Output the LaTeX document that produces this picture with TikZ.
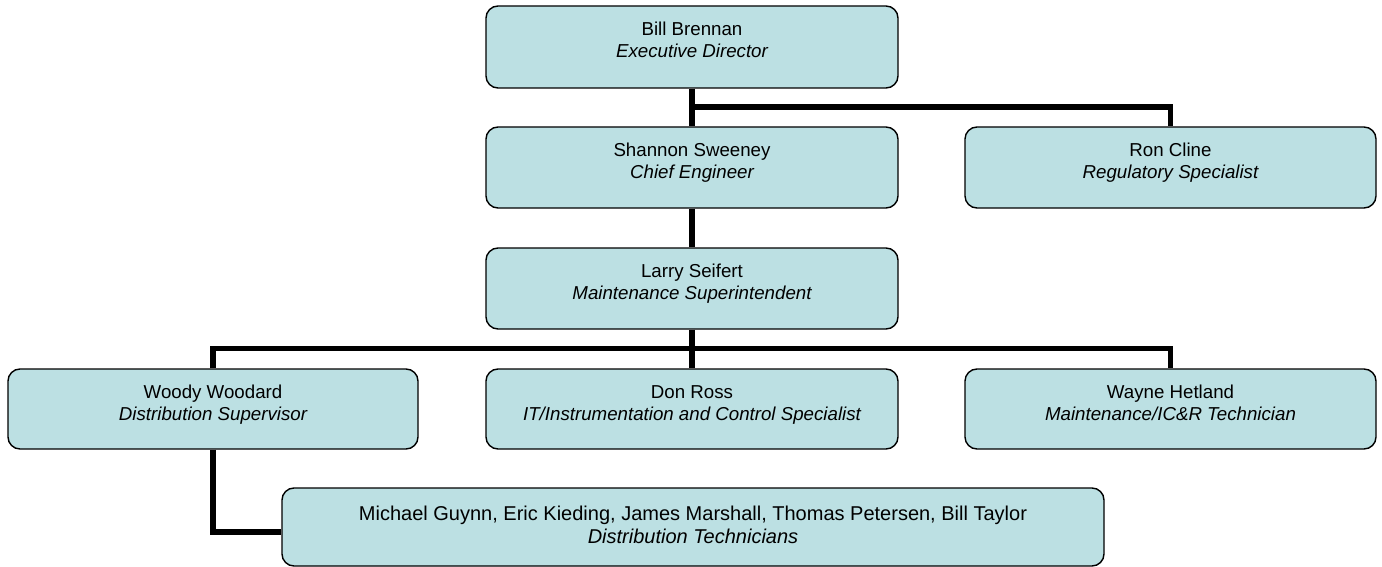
\documentclass[tikz,border=0pt]{standalone}
\usepackage{fontspec}
\setmainfont{Liberation Sans}
\definecolor{boxfill}{RGB}{188,224,227}
\newcommand\orgbox[7]{%
  \node[box, minimum width=#4*0.5pt, minimum height=#5*0.5pt] (#1) at (#2,#3) {};
  \node[nm] (#1n) at ([yshift=-15pt]#1.north) {#6};
  \node[tt] (#1t) at ([yshift=-26pt]#1.north) {#7};}
\begin{document}
\begin{tikzpicture}[x=0.5pt,y=-0.5pt,
  box/.style={draw=black, line width=0.7pt, fill=boxfill, rounded corners=6pt, inner sep=0pt},
  conn/.style={line width=2.6pt, draw=black},
  nm/.style={anchor=base, inner sep=0pt, font=\fontsize{9.35}{11}\selectfont},
  tt/.style={anchor=base, inner sep=0pt, font=\fontsize{9.35}{11}\selectfont\itshape},
  bignm/.style={anchor=base, inner sep=0pt, font=\fontsize{10}{12}\selectfont},
  bigtt/.style={anchor=base, inner sep=0pt, font=\fontsize{10}{12}\selectfont\itshape}]
\useasboundingbox (0,0) rectangle (1382,567);
\orgbox{bill}{692}{47}{412}{82}{Bill Brennan}{Executive Director}
\orgbox{shannon}{692}{167.5}{412}{81}{Shannon Sweeney}{Chief Engineer}
\orgbox{ron}{1170.5}{167.5}{411}{81}{Ron Cline}{Regulatory Specialist}
\orgbox{larry}{692}{288.5}{412}{81}{Larry Seifert}{Maintenance Superintendent}
\orgbox{woody}{213}{409}{410}{80}{Woody Woodard}{Distribution Supervisor}
\orgbox{don}{692}{409}{412}{80}{Don Ross}{IT/Instrumentation and Control Specialist}
\orgbox{wayne}{1170.5}{409}{411}{80}{Wayne Hetland}{Maintenance/IC\&R Technician}
\node[box, minimum width=411pt, minimum height=39pt] (michael) at (693,527) {};
\node[bignm] (michaeln) at ([yshift=-16.5pt]michael.north) {Michael Guynn, Eric Kieding, James Marshall, Thomas Petersen, Bill Taylor};
\node[bigtt] (michaelt) at ([yshift=-28pt]michael.north) {Distribution Technicians};
\coordinate (j1) at (692,107);
\coordinate (j2) at (692,348.5);
\draw[conn] (bill.south) -- (shannon.north);
\draw[conn] (j1) -| (ron.north);
\draw[conn] (shannon.south) -- (larry.north);
\draw[conn] (larry.south) -- (don.north);
\draw[conn] (woody.north) -- (woody.north |- j2) -| (wayne.north);
\draw[conn] (woody.south) |- ([yshift=-2.5pt]michael.west);
\end{tikzpicture}
\end{document}
